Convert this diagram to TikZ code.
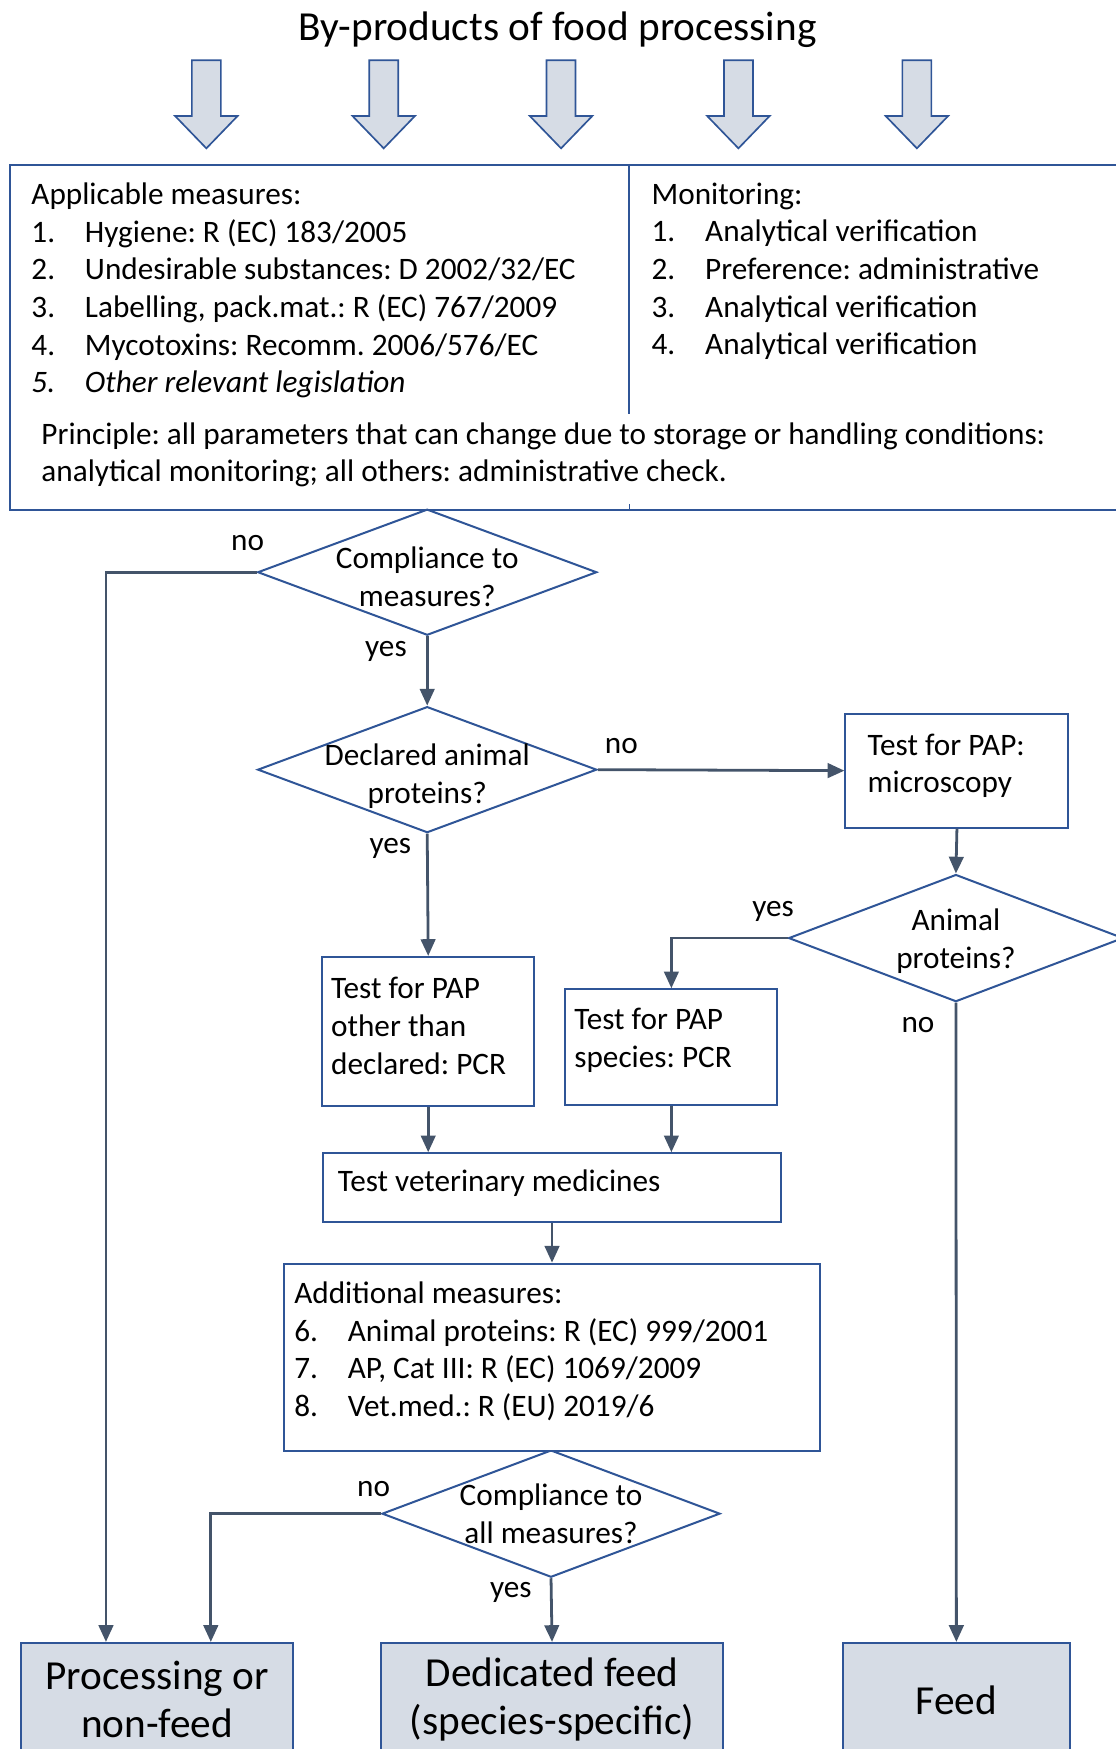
\documentclass[tikz,border=0pt]{standalone}
\usepackage{fontspec}
\setmainfont{Carlito}
\usetikzlibrary{shapes.geometric,arrows.meta}
\definecolor{boxblue}{RGB}{47,85,151}
\definecolor{flowgrey}{RGB}{68,84,106}
\definecolor{fillgrey}{RGB}{214,220,229}
\newcommand{\litem}[1]{\makebox[48pt][l]{#1}}
\frenchspacing

\begin{document}
\begin{tikzpicture}[x=1pt, y=-1pt,
    font=\fontsize{28}{33.7}\selectfont,
    box/.style={draw=boxblue, line width=1.8pt, fill=white, align=flush left,
        anchor=north west, inner xsep=8pt},
    decision/.style={diamond, draw=boxblue, line width=1.8pt, fill=white,
        inner sep=0pt, minimum width=304pt, minimum height=113pt},
    final/.style={draw=boxblue, line width=1.8pt, fill=fillgrey, align=center,
        anchor=north west, minimum height=102pt,
        font=\fontsize{37}{43}\selectfont},
    blockarrow/.style={draw=boxblue, line width=1.5pt, fill=fillgrey},
    flow/.style={draw=flowgrey, line width=2.5pt,
        -{Triangle[length=15pt, width=13pt]}},
    txt/.style={align=left, anchor=base west, inner sep=0pt}]
    \useasboundingbox (0,0) rectangle (1000,1568);

    % Title and input arrows
    \node[font=\fontsize{37}{43}\selectfont] (title) at (500,27) {By-products of food processing};
    \draw[blockarrow] (172,54) -- ++(26,0) -- ++(0,50) -- ++(15,0) -- ++(-28,29) -- ++(-28,-29) -- ++(15,0) -- cycle;
    \draw[blockarrow] (331,54) -- ++(26,0) -- ++(0,50) -- ++(15,0) -- ++(-28,29) -- ++(-28,-29) -- ++(15,0) -- cycle;
    \draw[blockarrow] (490,54) -- ++(26,0) -- ++(0,50) -- ++(15,0) -- ++(-28,29) -- ++(-28,-29) -- ++(15,0) -- cycle;
    \draw[blockarrow] (649,54) -- ++(26,0) -- ++(0,50) -- ++(15,0) -- ++(-28,29) -- ++(-28,-29) -- ++(15,0) -- cycle;
    \draw[blockarrow] (809,54) -- ++(26,0) -- ++(0,50) -- ++(15,0) -- ++(-28,29) -- ++(-28,-29) -- ++(15,0) -- cycle;

    % Measures and monitoring (base = last line)
    \node[box, minimum width=1002pt, minimum height=309pt] (meas) at (8,147) {};
    \draw[draw=boxblue, line width=1.5pt] ([xshift=556pt]meas.north west) -- ++(0,224);
    \draw[draw=boxblue, line width=1pt] ([xshift=556pt]meas.south west) -- ++(0,-6);
    \node[txt] (appl) at (28,352) {Applicable measures:\\
        \litem{1.}Hygiene: R (EC) 183/2005\\
        \litem{2.}Undesirable substances: D 2002/32/EC\\
        \litem{3.}Labelling, pack.mat.: R (EC) 767/2009\\
        \litem{4.}Mycotoxins: Recomm. 2006/576/EC\\
        \textit{\litem{5.}Other relevant legislation}};
    \node[txt] (mon) at (584,318) {Monitoring:\\
        \litem{1.}Analytical verification\\
        \litem{2.}Preference: administrative\\
        \litem{3.}Analytical verification\\
        \litem{4.}Analytical verification};
    \node[txt] (princ) at (37,432) {Principle: all parameters that can change due to storage or handling conditions:\\
        analytical monitoring; all others: administrative check.};

    % Decisions
    \node[decision, label={[align=center, yshift=-4pt]center:Compliance to\\measures?}] (d1) at (383,513) {};
    \node[decision, label={[align=center, yshift=-6pt]center:Declared animal\\proteins?}] (d2) at (383,690) {};
    \node[decision, minimum width=300pt, minimum height=114pt,
        label={[align=center, yshift=-3pt]center:Animal\\proteins?}] (d3) at (857,841) {};
    \node[decision, minimum width=303pt, minimum height=114pt,
        label={[align=center]center:Compliance to\\all measures?}] (d4) at (494,1357) {};

    % Tests
    \node[box, minimum width=200pt, minimum height=102pt, inner xsep=20pt, text width=160pt, text depth=47pt] (micro) at (757,639) {Test for PAP:\\microscopy};
    \node[box, minimum width=190pt, minimum height=134pt, text width=174pt, text depth=78pt] (oth) at (288,857) {Test for PAP\\other than\\declared: PCR};
    \node[box, minimum width=190pt, minimum height=104pt, text width=174pt, text depth=51pt] (spec) at (506,886) {Test for PAP\\species: PCR};
    \node[box, minimum width=410pt, minimum height=62pt, inner xsep=13pt, text width=384pt, text depth=13pt] (vet) at (289,1033) {Test veterinary medicines};
    \node[box, minimum width=480pt, minimum height=168pt, inner xsep=9pt, text width=462pt, text depth=116pt] (add) at (254,1132) {Additional measures:\\
        \litem{6.}Animal proteins: R (EC) 999/2001\\
        \litem{7.}AP, Cat III: R (EC) 1069/2009\\
        \litem{8.}Vet.med.: R (EU) 2019/6};

    % Outcomes
    \node[final, minimum width=244pt] (proc) at (18,1472) {Processing or\\non-feed};
    \node[final, minimum width=306pt] (ded) at (341,1472) {Dedicated feed\\(species-specific)};
    \node[final, minimum width=203pt] (feed) at (755,1472) {Feed};

    % Connectors
    \draw[flow] (d1.west) -| ([xshift=77pt]proc.north west);
    \draw[flow] (d1.south) -- (d2.north);
    \draw[flow] (d2.east) -- (micro.west);
    \draw[flow] (d2.south) -- (oth.north);
    \draw[flow] (micro.south) -- (d3.north);
    \draw[flow] (d3.west) -| (spec.north);
    \draw[flow] (d3.south) -- (feed.north);
    \draw[flow] (oth.south) -- (oth.south |- vet.north);
    \draw[flow] (spec.south) -- (spec.south |- vet.north);
    \draw[flow] (vet.south) -- (add.north);
    \draw[flow] (d4.west) -| ([xshift=171pt]proc.north west);
    \draw[flow] (d4.south) -- (ded.north);

    % Branch labels
    \node (no1) at (222,487) {no};
    \node (yes1) at (346,584) {yes};
    \node (no2) at (557,669) {no};
    \node (yes2) at (350,761) {yes};
    \node (yes3) at (693,817) {yes};
    \node (no3) at (823,919) {no};
    \node (no4) at (335,1335) {no};
    \node (yes4) at (458,1428) {yes};
\end{tikzpicture}
\end{document}
